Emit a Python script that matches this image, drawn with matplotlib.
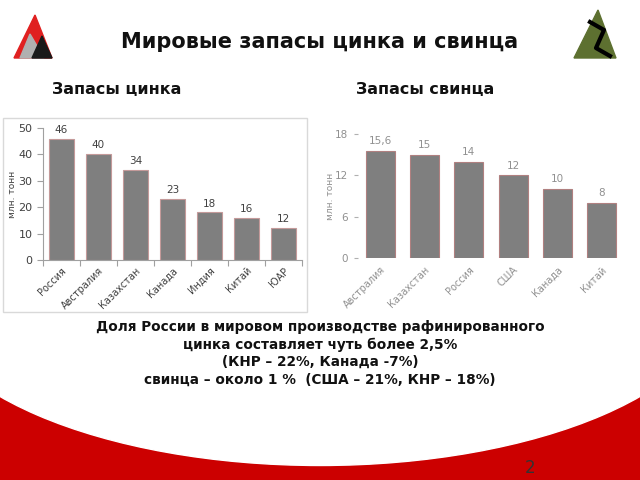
import matplotlib.pyplot as plt
from matplotlib.patches import Rectangle, Ellipse, Polygon

# data
zinc_countries = ['Россия', 'Австралия', 'Казахстан', 'Канада', 'Индия', 'Китай', 'ЮАР']
zinc_values = [46, 40, 34, 23, 18, 16, 12]
zinc_labels = ['46', '40', '34', '23', '18', '16', '12']

lead_countries = ['Австралия', 'Казахстан', 'Россия', 'США', 'Канада', 'Китай']
lead_values = [15.6, 15, 14, 12, 10, 8]
lead_labels = ['15,6', '15', '14', '12', '10', '8']

note_lines = ['Доля России в мировом производстве рафинированного',
              'цинка составляет чуть более 2,5%',
              '(КНР – 22%, Канада -7%)',
              'свинца – около 1 %  (США – 21%, КНР – 18%)']

fig = plt.figure(figsize=(6.4, 4.8), dpi=100)

# background layer in pixel coords
bg = fig.add_axes([0, 0, 1, 1])
bg.set_xlim(0, 640)
bg.set_ylim(480, 0)
bg.axis('off')

# red band at the bottom with white elliptical cut
bg.add_patch(Rectangle((0, 385), 640, 95, color='#cc0000', zorder=1))
bg.add_patch(Ellipse((320, 293), 800, 345, color='white', zorder=2))
bg.text(530, 468, '2', fontsize=12, color='#333333', ha='center', va='center', zorder=3)

# left logo
bg.add_patch(Polygon([[35, 15], [14, 58], [52, 58]], closed=True, color='#e02020', zorder=3))
bg.add_patch(Polygon([[30, 34], [20, 58], [44, 58]], closed=True, color='#b0b0b0', zorder=4))
bg.add_patch(Polygon([[42, 36], [32, 58], [52, 58]], closed=True, color='#1a1a1a', zorder=4))
# right logo
bg.add_patch(Polygon([[598, 10], [574, 58], [616, 58]], closed=True, color='#5d7030', zorder=3))
bg.plot([590, 604, 596, 610], [22, 30, 48, 56], color='black', lw=3, zorder=4)

# titles
bg.text(320, 42, 'Мировые запасы цинка и свинца', fontsize=15, fontweight='bold',
        ha='center', va='center', color='#111111', zorder=5)
bg.text(117, 90, 'Запасы цинка', fontsize=11.5, fontweight='bold',
        ha='center', va='center', color='#111111', zorder=5)
bg.text(425, 90, 'Запасы свинца', fontsize=11.5, fontweight='bold',
        ha='center', va='center', color='#111111', zorder=5)

# note text
for i, line in enumerate(note_lines):
    bg.text(320, 327 + i * 17.5, line, fontsize=9.8, fontweight='bold',
            ha='center', va='center', color='#111111', zorder=5)

# frame around zinc chart
bg.add_patch(Rectangle((3, 118), 304, 194, facecolor='white', edgecolor='#d9d9d9',
                       lw=1, zorder=3))

# zinc chart
ax1 = fig.add_axes([43 / 640, 1 - 260 / 480, 259 / 640, 132 / 480])
ax1.patch.set_alpha(0)
x1 = range(len(zinc_values))
ax1.bar(x1, zinc_values, width=0.68, color='#7f7f7f', edgecolor='#c49a9a', linewidth=0.8)
for xi, v, lab in zip(x1, zinc_values, zinc_labels):
    ax1.text(xi, v + 1.5, lab, ha='center', va='bottom', fontsize=7.5, color='#404040')
ax1.set_xlim(-0.5, len(zinc_values) - 0.5)
ax1.set_ylim(0, 50)
ax1.set_yticks([0, 10, 20, 30, 40, 50])
ax1.set_xticks([i + 0.5 for i in range(-1, len(zinc_values))], minor=False)
ax1.set_xticklabels([])
ax1.set_xticks(list(x1), minor=True)
ax1.set_xticklabels(zinc_countries, minor=True, rotation=45, ha='right',
                    rotation_mode='anchor', fontsize=7, color='#404040')
ax1.tick_params(axis='x', which='minor', length=0, pad=4)
ax1.tick_params(axis='x', which='major', length=4, color='#a0a0a0')
ax1.tick_params(axis='y', labelsize=8, labelcolor='#404040', length=4, color='#a0a0a0')
for s in ['top', 'right']:
    ax1.spines[s].set_visible(False)
for s in ['left', 'bottom']:
    ax1.spines[s].set_color('#a0a0a0')
ax1.set_ylabel('млн. тонн', fontsize=6.5, color='#404040', labelpad=1)

# lead chart
ax2 = fig.add_axes([358 / 640, 1 - 258 / 480, 266 / 640, 124 / 480])
ax2.patch.set_alpha(0)
x2 = range(len(lead_values))
ax2.bar(x2, lead_values, width=0.66, color='#7f7f7f', edgecolor='#b08080', linewidth=0.8)
for xi, v, lab in zip(x2, lead_values, lead_labels):
    ax2.text(xi, v + 0.7, lab, ha='center', va='bottom', fontsize=7.5, color='#909090')
ax2.set_xlim(-0.5, len(lead_values) - 0.5)
ax2.set_ylim(0, 18)
ax2.set_yticks([0, 6, 12, 18])
ax2.set_xticks(list(x2))
ax2.set_xticklabels(lead_countries, rotation=45, ha='right', rotation_mode='anchor',
                    fontsize=7, color='#909090')
ax2.tick_params(axis='x', length=0, pad=5)
ax2.tick_params(axis='y', labelsize=7.5, labelcolor='#909090', length=3, color='#b0b0b0', pad=4)
for s in ax2.spines.values():
    s.set_visible(False)
ax2.set_ylabel('млн. тонн', fontsize=6.5, color='#909090', labelpad=0)

fig.savefig('out.png', dpi=100)
